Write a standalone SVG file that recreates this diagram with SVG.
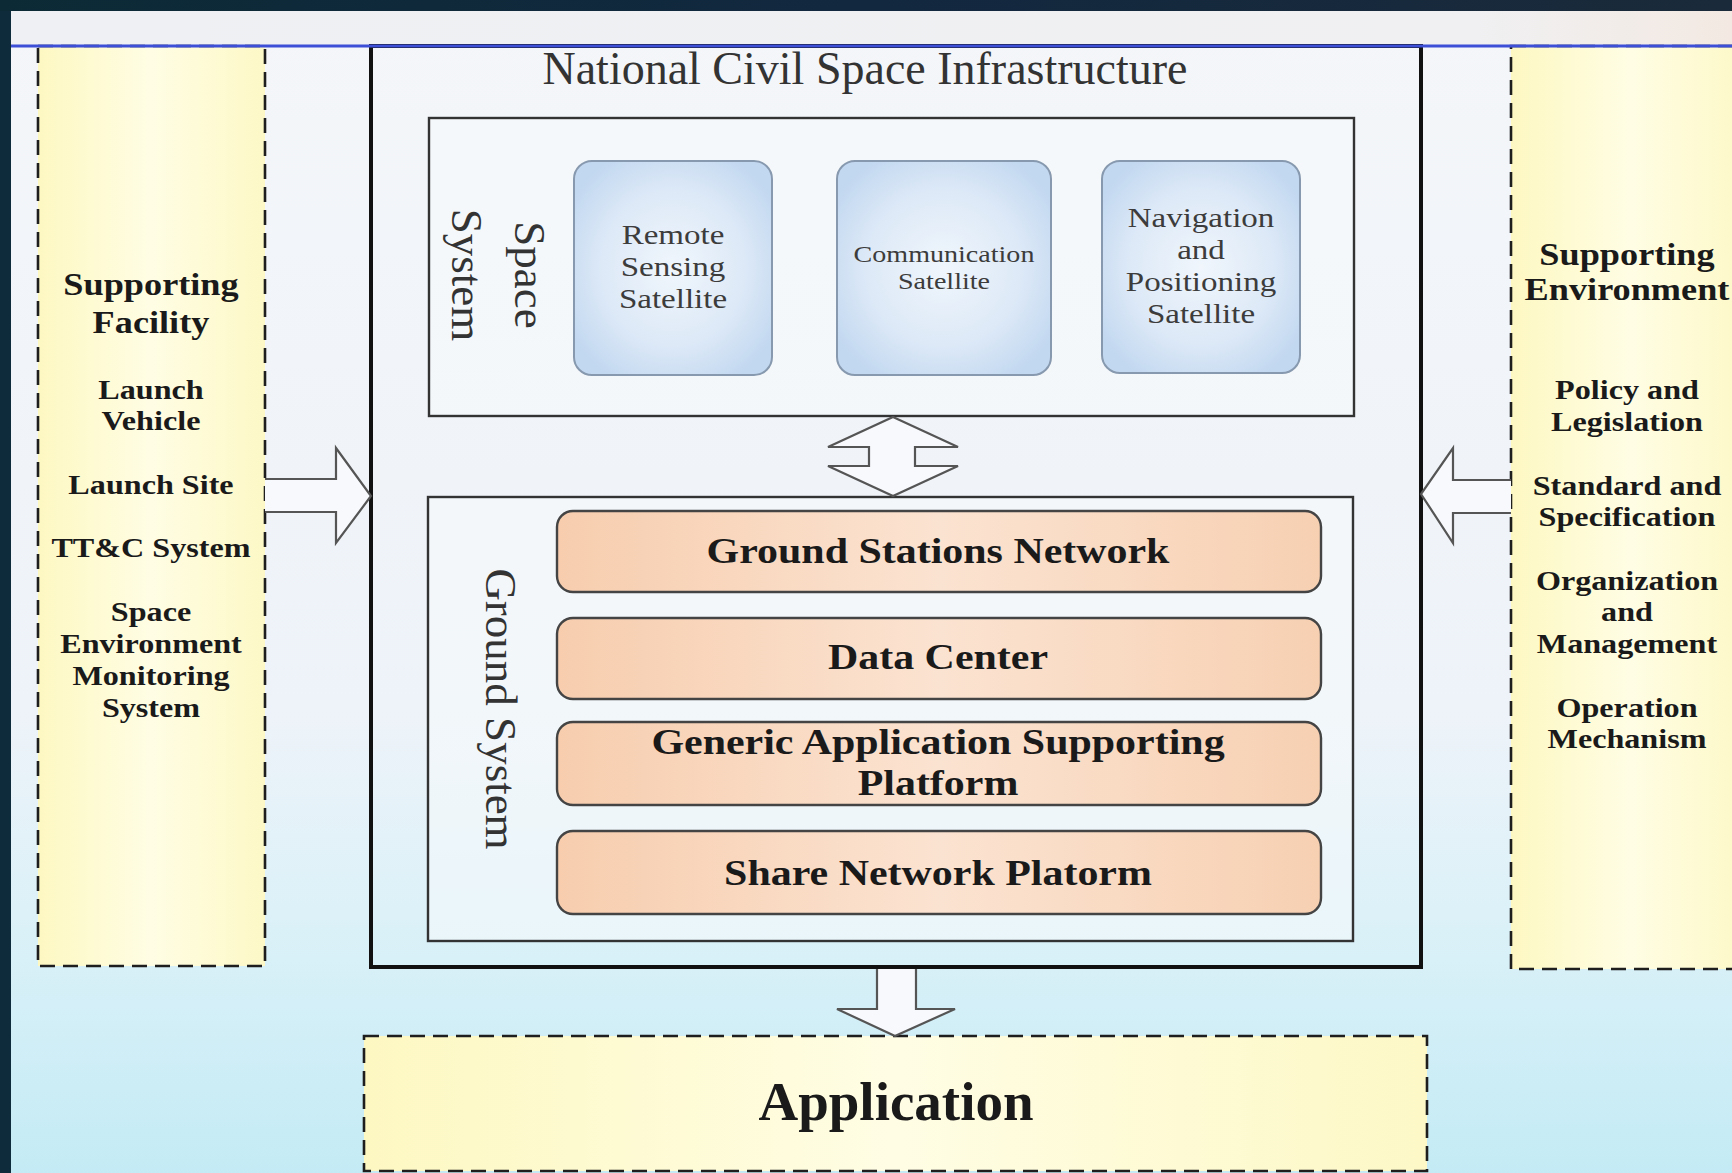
<svg xmlns="http://www.w3.org/2000/svg" width="1732" height="1173" viewBox="0 0 1732 1173">
<defs>
<linearGradient id="bg" x1="0" y1="0" x2="0" y2="1">
<stop offset="0" stop-color="#f4f6f9"/>
<stop offset="0.6" stop-color="#eef3f9"/>
<stop offset="0.78" stop-color="#dcf1f8"/>
<stop offset="1" stop-color="#c4ebf5"/>
</linearGradient>
<linearGradient id="topband" x1="0" y1="0" x2="1" y2="0">
<stop offset="0" stop-color="#0c2a36"/>
<stop offset="0.5" stop-color="#12283f"/>
<stop offset="1" stop-color="#1a2a3a"/>
</linearGradient>
<linearGradient id="strip" x1="0" y1="0" x2="1" y2="0">
<stop offset="0" stop-color="#eef0f3"/>
<stop offset="0.85" stop-color="#f0f0f2"/>
<stop offset="1" stop-color="#f3e9e2"/>
</linearGradient>
<linearGradient id="yel" x1="0" y1="0" x2="1" y2="0">
<stop offset="0" stop-color="#fdf8c2"/>
<stop offset="0.5" stop-color="#fffde4"/>
<stop offset="1" stop-color="#fdf8c6"/>
</linearGradient>
<radialGradient id="blu" cx="0.5" cy="0.5" r="0.6">
<stop offset="0" stop-color="#f0f6fc"/>
<stop offset="0.6" stop-color="#dde9f7"/>
<stop offset="1" stop-color="#c2d8f0"/>
</radialGradient>
<linearGradient id="org" x1="0" y1="0" x2="1" y2="0">
<stop offset="0" stop-color="#f7cdae"/>
<stop offset="0.5" stop-color="#fbe3d1"/>
<stop offset="1" stop-color="#f7d0b2"/>
</linearGradient>
</defs>
<style>
.dash{fill:url(#yel);stroke:#1e1e1e;stroke-width:2.6;stroke-dasharray:15 8}
.main{fill:none;stroke:#111;stroke-width:4}
.sub{fill:#f6f9fc;fill-opacity:0.55;stroke:#333;stroke-width:2.4}
.sat{fill:url(#blu);stroke:#8799ae;stroke-width:2}
.bar{fill:url(#org);stroke:#444;stroke-width:2.4}
.arrow{fill:#f7f9fc;stroke:#555;stroke-width:2.2;stroke-linejoin:miter}
text{font-family:"Liberation Serif","Times New Roman",serif;text-anchor:middle}
.reg{fill:#333}
.sat-t{fill:#3c3c3c}
.b{font-weight:bold;fill:#1a1a1a}
.hd{font-size:31px}
.it{font-size:27.5px}
.bt{font-size:36px}
.s28{font-size:28px}
.s24{font-size:24px}
</style>

<!-- background -->
<rect x="0" y="0" width="1732" height="1173" fill="#0d2b3a"/>
<rect x="11" y="11" width="1721" height="1162" fill="url(#bg)"/>
<rect x="0" y="0" width="1732" height="11" fill="url(#topband)"/>
<rect x="11" y="11" width="1721" height="35" fill="url(#strip)"/>

<!-- side boxes -->
<g id="supporting-facility">
<rect class="dash" x="38" y="46" width="227" height="920"/>
<text class="b hd" transform="translate(151,295) scale(1.17,1)">Supporting</text>
<text class="b hd" transform="translate(151,333) scale(1.17,1)">Facility</text>
<text class="b it" transform="translate(151,399) scale(1.17,1)">Launch</text>
<text class="b it" transform="translate(151,430) scale(1.17,1)">Vehicle</text>
<text class="b it" transform="translate(151,494) scale(1.17,1)">Launch Site</text>
<text class="b it" transform="translate(151,557) scale(1.17,1)">TT&amp;C System</text>
<text class="b it" transform="translate(151,621) scale(1.17,1)">Space</text>
<text class="b it" transform="translate(151,653) scale(1.17,1)">Environment</text>
<text class="b it" transform="translate(151,685) scale(1.17,1)">Monitoring</text>
<text class="b it" transform="translate(151,717) scale(1.17,1)">System</text>
</g>

<g id="supporting-environment">
<rect class="dash" x="1511" y="46" width="240" height="923"/>
<text class="b hd" transform="translate(1627,265) scale(1.17,1)">Supporting</text>
<text class="b hd" transform="translate(1627,300) scale(1.17,1)">Environment</text>
<text class="b it" transform="translate(1627,399) scale(1.17,1)">Policy and</text>
<text class="b it" transform="translate(1627,431) scale(1.17,1)">Legislation</text>
<text class="b it" transform="translate(1627,495) scale(1.17,1)">Standard and</text>
<text class="b it" transform="translate(1627,526) scale(1.17,1)">Specification</text>
<text class="b it" transform="translate(1627,590) scale(1.17,1)">Organization</text>
<text class="b it" transform="translate(1627,621) scale(1.17,1)">and</text>
<text class="b it" transform="translate(1627,653) scale(1.17,1)">Management</text>
<text class="b it" transform="translate(1627,717) scale(1.17,1)">Operation</text>
<text class="b it" transform="translate(1627,748) scale(1.17,1)">Mechanism</text>
</g>

<g id="application">
<rect class="dash" x="364" y="1036" width="1063" height="135"/>
<text class="b" x="896" y="1120" font-size="55">Application</text>
</g>

<!-- main infrastructure -->
<g id="national-civil-space-infrastructure">
<rect class="main" x="371" y="46" width="1050" height="921"/>
<text class="reg" x="865" y="84" font-size="46">National Civil Space Infrastructure</text>
</g>

<g id="space-system">
<rect class="sub" x="429" y="118" width="925" height="298"/>
<text class="reg" font-size="45" transform="translate(515,275) rotate(90)">Space</text>
<text class="reg" font-size="45" transform="translate(452,275) rotate(90)">System</text>
</g>

<g id="remote-sensing-satellite">
<rect class="sat" x="574" y="161" width="198" height="214" rx="18"/>
<text class="sat-t s28" transform="translate(673,244) scale(1.18,1)">Remote</text>
<text class="sat-t s28" transform="translate(673,276) scale(1.18,1)">Sensing</text>
<text class="sat-t s28" transform="translate(673,308) scale(1.18,1)">Satellite</text>
</g>

<g id="communication-satellite">
<rect class="sat" x="837" y="161" width="214" height="214" rx="18"/>
<text class="sat-t s24" transform="translate(944,262) scale(1.17,1)">Communication</text>
<text class="sat-t s24" transform="translate(944,289) scale(1.17,1)">Satellite</text>
</g>

<g id="navigation-satellite">
<rect class="sat" x="1102" y="161" width="198" height="212" rx="18"/>
<text class="sat-t s28" transform="translate(1201,227) scale(1.18,1)">Navigation</text>
<text class="sat-t s28" transform="translate(1201,259) scale(1.18,1)">and</text>
<text class="sat-t s28" transform="translate(1201,291) scale(1.18,1)">Positioning</text>
<text class="sat-t s28" transform="translate(1201,323) scale(1.18,1)">Satellite</text>
</g>

<g id="ground-system">
<rect class="sub" x="428" y="497" width="925" height="444"/>
<text class="reg" font-size="45" transform="translate(486,709) rotate(90)">Ground System</text>
</g>

<g id="ground-stations-network">
<rect class="bar" x="557" y="511" width="764" height="81" rx="16"/>
<text class="b bt" transform="translate(938,563) scale(1.165,1)">Ground Stations Network</text>
</g>
<g id="data-center">
<rect class="bar" x="557" y="618" width="764" height="81" rx="16"/>
<text class="b bt" transform="translate(938,669) scale(1.165,1)">Data Center</text>
</g>
<g id="generic-application-supporting-platform">
<rect class="bar" x="557" y="722" width="764" height="83" rx="16"/>
<text class="b bt" transform="translate(938,754) scale(1.165,1)">Generic Application Supporting</text>
<text class="b bt" transform="translate(938,795) scale(1.165,1)">Platform</text>
</g>
<g id="share-network-platform">
<rect class="bar" x="557" y="831" width="764" height="83" rx="16"/>
<text class="b bt" transform="translate(938,885) scale(1.165,1)">Share Network Platorm</text>
</g>

<!-- connectors -->
<g id="connectors">
<path class="arrow" d="M265,479 L336,479 L336,448 L371,496 L336,543 L336,512 L265,512"/>
<path class="arrow" d="M1511,480 L1453,480 L1453,448 L1421,494 L1453,543 L1453,513 L1511,513"/>
<path class="arrow" d="M893,417 L958,447 L915,447 L915,466 L958,466 L893,496 L828,466 L869,466 L869,447 L828,447 Z"/>
<path class="arrow" d="M877,969 L877,1009 L837,1009 L895,1036 L955,1009 L916,1009 L916,969"/>
</g>

<line x1="11" y1="46" x2="1732" y2="46" stroke="#3d4fd6" stroke-width="3"/>
</svg>
